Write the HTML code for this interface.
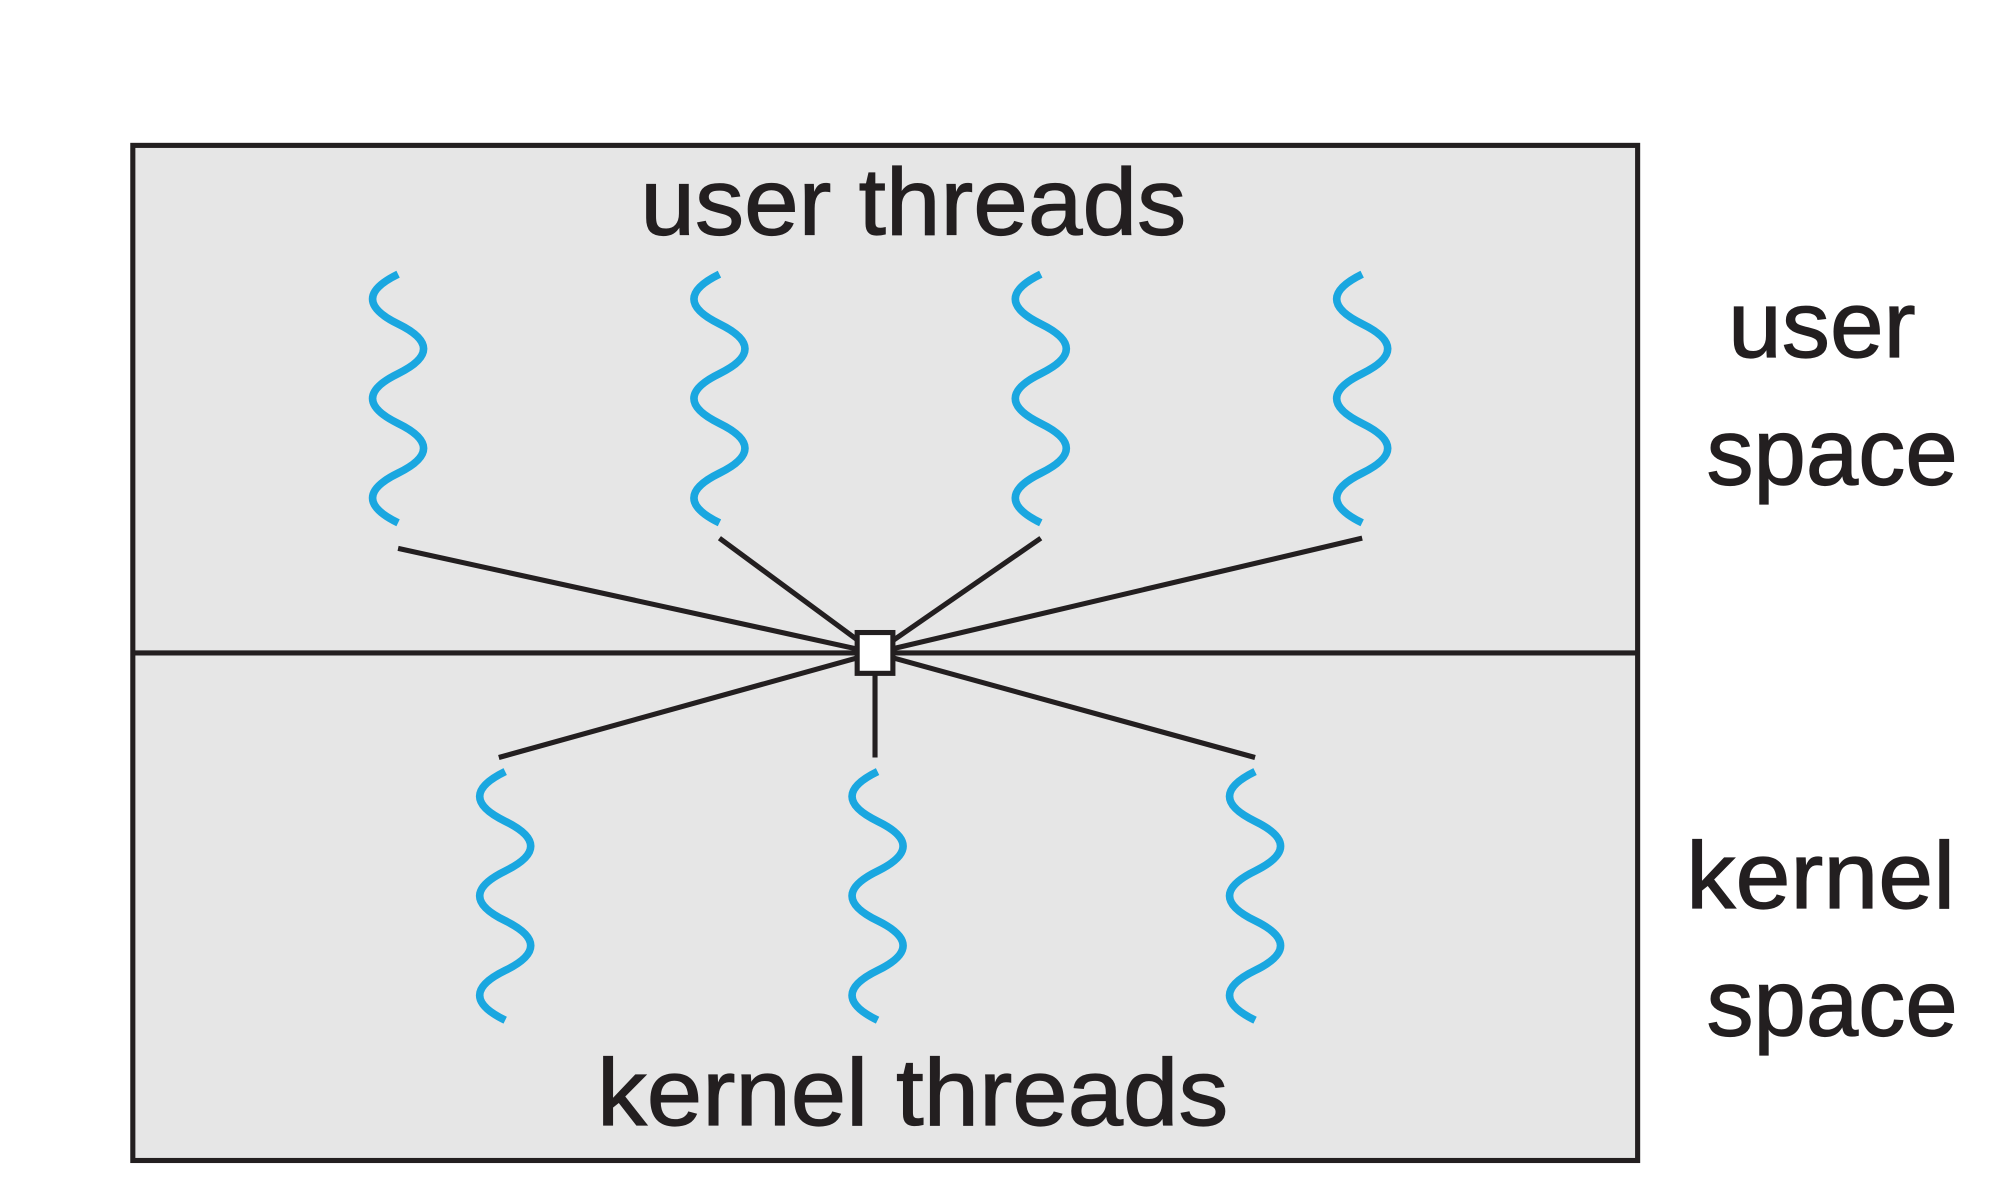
<!DOCTYPE html>
<html><head><meta charset="utf-8"><style>
html,body{margin:0;padding:0;background:#fff;}
svg{display:block;}
text{font-family:"Liberation Sans","DejaVu Sans",sans-serif;fill:#231f20;stroke:#231f20;stroke-width:0.9;}
</style></head><body>
<svg width="2000" height="1186" viewBox="0 0 1568 930" xmlns="http://www.w3.org/2000/svg">
<rect x="104" y="114" width="1180" height="796" fill="#e6e6e6" stroke="#231f20" stroke-width="4"/>
<line x1="104" y1="512" x2="1284" y2="512" stroke="#231f20" stroke-width="4"/>
<g stroke="#231f20" stroke-width="4" fill="none">
<line x1="312" y1="430" x2="686" y2="512"/>
<line x1="564" y1="422" x2="686" y2="512"/>
<line x1="816" y1="422" x2="686" y2="512"/>
<line x1="1068" y1="422" x2="686" y2="512"/>
<line x1="391" y1="594" x2="686" y2="512"/>
<line x1="686" y1="594" x2="686" y2="512"/>
<line x1="984" y1="594" x2="686" y2="512"/>
</g>
<rect x="672" y="496" width="28" height="32" fill="#fff" stroke="#231f20" stroke-width="4"/>
<g stroke="#1aa7e0" stroke-width="6" fill="none">
<path d="M312 215 q-40 19.5 0 39 t0 39 t0 39 t0 39 t0 39"/>
<path d="M564 215 q-40 19.5 0 39 t0 39 t0 39 t0 39 t0 39"/>
<path d="M816 215 q-40 19.5 0 39 t0 39 t0 39 t0 39 t0 39"/>
<path d="M1068 215 q-40 19.5 0 39 t0 39 t0 39 t0 39 t0 39"/>
<path d="M396 605 q-40 19.5 0 39 t0 39 t0 39 t0 39 t0 39"/>
<path d="M688 605 q-40 19.5 0 39 t0 39 t0 39 t0 39 t0 39"/>
<path d="M984 605 q-40 19.5 0 39 t0 39 t0 39 t0 39 t0 39"/>
</g>
<text x="502" y="184" font-size="74" textLength="428" lengthAdjust="spacingAndGlyphs">user threads</text>
<text x="468" y="882" font-size="74" textLength="495" lengthAdjust="spacingAndGlyphs">kernel threads</text>
<text x="1355" y="280" font-size="74" textLength="147" lengthAdjust="spacingAndGlyphs">user</text>
<text x="1338" y="380" font-size="74" textLength="197" lengthAdjust="spacingAndGlyphs">space</text>
<text x="1322" y="712" font-size="74" textLength="211" lengthAdjust="spacingAndGlyphs">kernel</text>
<text x="1338" y="812" font-size="74" textLength="197" lengthAdjust="spacingAndGlyphs">space</text>
</svg>
</body></html>
